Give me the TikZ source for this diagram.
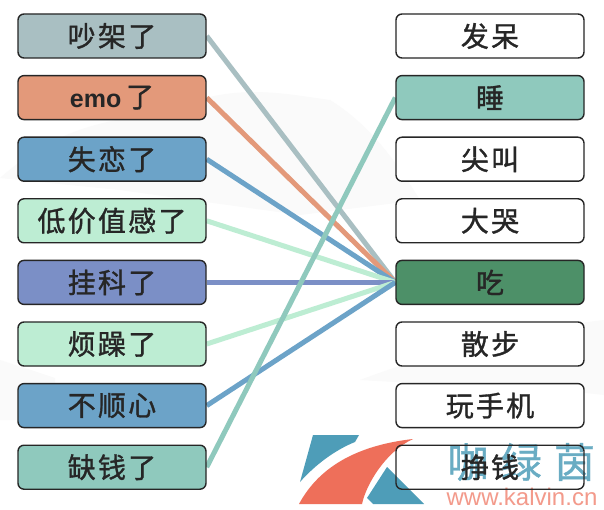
\documentclass[tikz,border=0pt]{standalone}
\usepackage{fontspec}
\setsansfont{Liberation Sans}
\newfontfamily\cjk[LetterSpace=8,FakeBold=1.2]{Noto Sans CJK SC}
\newfontfamily\markfont[LetterSpace=30,FakeBold=0.8]{Noto Sans CJK SC}
\usetikzlibrary{positioning,backgrounds}
\definecolor{quarrel}{HTML}{A9BFC2}
\definecolor{emo}{HTML}{E3997A}
\definecolor{blue}{HTML}{6CA3C8}
\definecolor{mint}{HTML}{BDEDD3}
\definecolor{purple}{HTML}{7B8FC6}
\definecolor{teal}{HTML}{8FC9BD}
\definecolor{green}{HTML}{4D9068}
\definecolor{wmteal}{HTML}{4E9DB8}
\definecolor{wmred}{HTML}{EE6F5A}
\tikzset{
	x=1pt,
	y=-1pt,
	node distance=61.6pt,
	on grid,
	word/.style={draw=black!85, line width=1.4pt, rounded corners=6pt, minimum width=188pt, minimum height=44pt, inner sep=0pt, font=\fontsize{28}{28}\cjk, text=black!85},
	link/.style={line width=5pt},
	hill/.style={fill=black!2, draw=none},
}

\begin{document}
\begin{tikzpicture}
      \useasboundingbox (0,0) rectangle (604,510);

      % left column
      \node[word, fill=quarrel] at (112,36) (l1) {吵架了};
      \node[word, fill=emo, below of=l1] (l2) {{\fontsize{25}{25}\sffamily\bfseries emo}\,了};
      \node[word, fill=blue, below of=l2] (l3) {失恋了};
      \node[word, fill=mint, below of=l3] (l4) {低价值感了};
      \node[word, fill=purple, below of=l4] (l5) {挂科了};
      \node[word, fill=mint, below of=l5] (l6) {烦躁了};
      \node[word, fill=blue, below of=l6] (l7) {不顺心};
      \node[word, fill=teal, below of=l7] (l8) {缺钱了};

      % right column
      \node[word, fill=white] at (490,36) (r1) {发呆};
      \node[word, fill=teal, below of=r1] (r2) {睡};
      \node[word, fill=white, below of=r2] (r3) {尖叫};
      \node[word, fill=white, below of=r3] (r4) {大哭};
      \node[word, fill=green, below of=r4] (r5) {吃};
      \node[word, fill=white, below of=r5] (r6) {散步};
      \node[word, fill=white, below of=r6] (r7) {玩手机};
      \node[word, fill=none, below of=r7] (r8) {挣钱};

      \begin{scope}[on background layer]
        \fill[white] (0,0) rectangle (604,510);
        % faint mountain behind everything
        \fill[hill] (0,178) .. controls (60,125) and (110,120) .. (170,112) .. controls (230,80) and (290,95) .. (330,100) .. controls (370,125) and (395,160) .. (420,200) -- (300,215) -- (120,190) -- cycle;
        \fill[hill] (0,360) -- (55,378) -- (55,420) -- (0,420) -- cycle;
        \fill[hill] (360,380) .. controls (440,350) and (520,330) .. (604,320) -- (604,395) .. controls (520,385) and (440,385) .. (360,380) -- cycle;

        \draw[link, quarrel] (l1.east) -- (r5.west);
        \draw[link, emo] (l2.east) -- (r5.west);
        \draw[link, blue] (l3.east) -- (r5.west);
        \draw[link, mint] (l4.east) -- (r5.west);
        \draw[link, purple] (l5.east) -- (r5.west);
        \draw[link, mint] (l6.east) -- (r5.west);
        \draw[link, blue] (l7.east) -- (r5.west);
        \draw[link, teal] (l8.east) -- (r2.west);

        % watermark
        \fill[wmteal] (313,435) -- (359,435) -- (355,442) .. controls (335,450) and (315,465) .. (300,482) -- cycle;
        \fill[wmred] (413,439) .. controls (360,445) and (320,465) .. (299,504) -- (362,504) .. controls (366,485) and (385,452) .. (413,439) -- cycle;
        \fill[wmteal] (387,467) -- (424,504) -- (373,504) -- (367,498) -- cycle;
        \node[font=\fontsize{41}{41}\markfont, text=wmteal!85, anchor=west] at (444,462) (mark) {咖绿茵};
        \node[font=\fontsize{24}{24}\sffamily, text=wmred!70, anchor=center] at (522,497) (site) {www.kalvin.cn};
      \end{scope}
\end{tikzpicture}
\end{document}
